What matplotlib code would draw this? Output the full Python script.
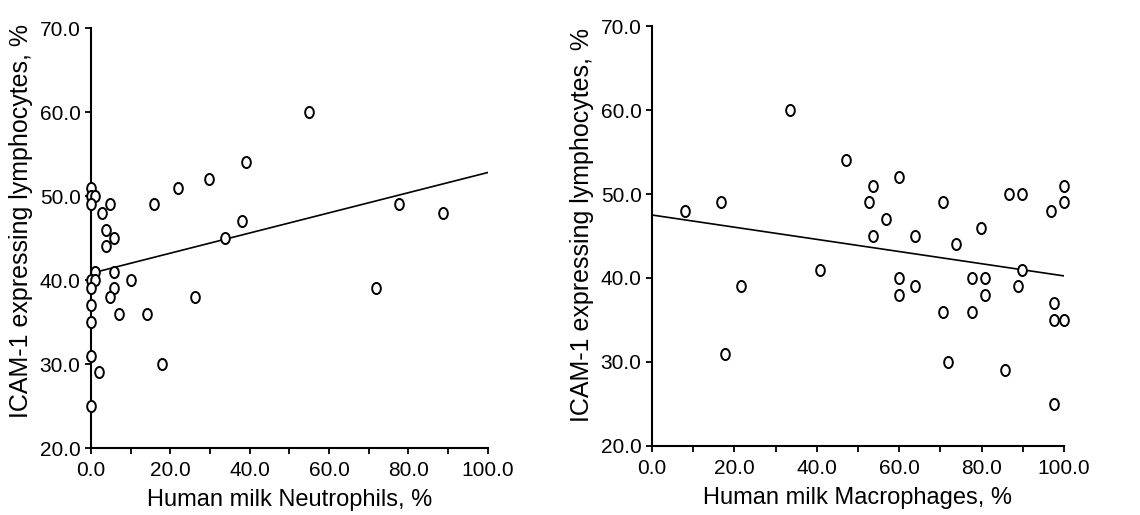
"""
    ICAM-1 lymphocytes vs milk neutrophils / macrophages
"""

import numpy as np
import matplotlib
matplotlib.use('Agg')
import matplotlib.pyplot as plt
from matplotlib.path import Path
from matplotlib.ticker import MultipleLocator, FormatStrFormatter

plt.rcParams['font.family'] = ['Liberation Sans', 'DejaVu Sans']

# left panel: neutrophils
neut_x = [0, 0, 0.9, 0, 4.9, 2.9, 3.9, 5.9, 3.9, 0.9, 5.9, 0, 0.9, 10, 0, 5.9,
          4.9, 26.1, 0, 7.0, 14.0, 0, 0, 2.1, 17.9, 0, 15.8, 22.0, 29.8, 39.0,
          33.9, 38.1, 54.9, 71.8, 77.7, 88.8]
neut_y = [51, 50, 50, 49, 49, 48, 46, 45, 44, 41, 41, 40, 40, 40, 39, 39,
          38, 38, 37, 36, 36, 35, 31, 29, 30, 25, 49, 51, 52, 54,
          45, 47, 60, 39, 49, 48]

# right panel: macrophages
macro_x = [8, 16.7, 17.8, 21.6, 33.6, 40.7, 47.0, 52.8, 53.7, 53.7, 56.8, 60,
           60, 60, 63.9, 63.9, 70.6, 70.6, 71.8, 73.7, 77.8, 77.8, 79.9, 80.8,
           80.8, 85.7, 86.7, 89.7, 89.7, 88.8, 96.8, 97.7, 97.7, 97.7, 100, 100, 100]
macro_y = [48, 49, 31, 39, 60, 41, 54, 49, 51, 45, 47, 52,
           40, 38, 45, 39, 49, 36, 30, 44, 40, 36, 46, 40,
           38, 29, 50, 50, 41, 39, 48, 37, 35, 25, 51, 49, 35]

# fitted lines
fit_x = [0, 100]
neut_fit = [40.8, 52.8]
macro_fit = [47.5, 40.25]

# slightly tall open ellipse like the original markers
circ = Path.unit_circle()
ellipse = Path(circ.vertices * np.array([0.78, 1.0]), circ.codes)


def panel(ax, x, y, fy, xlabel, ylab_x, ylab_y):
    ax.plot(x, y, linestyle='none', marker=ellipse, markersize=8,
            markerfacecolor='white', markeredgecolor='black',
            markeredgewidth=1.4, clip_on=False, zorder=3)
    ax.plot(fit_x, fy, color='black', linewidth=1.2, zorder=2)
    ax.set_xlim(0, 100)
    ax.set_ylim(20, 70)
    ax.spines['top'].set_visible(False)
    ax.spines['right'].set_visible(False)
    ax.spines['left'].set_linewidth(1.5)
    ax.spines['bottom'].set_linewidth(1.5)
    ax.xaxis.set_major_locator(MultipleLocator(20))
    ax.xaxis.set_minor_locator(MultipleLocator(10))
    ax.yaxis.set_major_locator(MultipleLocator(10))
    ax.xaxis.set_major_formatter(FormatStrFormatter('%.1f'))
    ax.yaxis.set_major_formatter(FormatStrFormatter('%.1f'))
    ax.tick_params(which='both', direction='out', length=4.5, width=1.3,
                   labelsize=15, pad=3)
    ax.tick_params(axis='x', which='both', pad=5)
    ax.set_xlabel(xlabel, fontsize=17, labelpad=6)
    ax.set_ylabel('ICAM-1 expressing lymphocytes, %', fontsize=18)
    ax.yaxis.set_label_coords(ylab_x, ylab_y)


fig = plt.figure(figsize=(11.4, 5.15), dpi=100)
ax1 = fig.add_axes([0.0798, 0.130, 0.348, 0.8155])
ax2 = fig.add_axes([0.5719, 0.134, 0.3614, 0.8155])

panel(ax1, neut_x, neut_y, neut_fit, 'Human milk Neutrophils, %', -0.146, 0.54)
panel(ax2, macro_x, macro_y, macro_fit, 'Human milk Macrophages, %', -0.141, 0.526)

plt.savefig('out.png', dpi=100)
plt.close()
